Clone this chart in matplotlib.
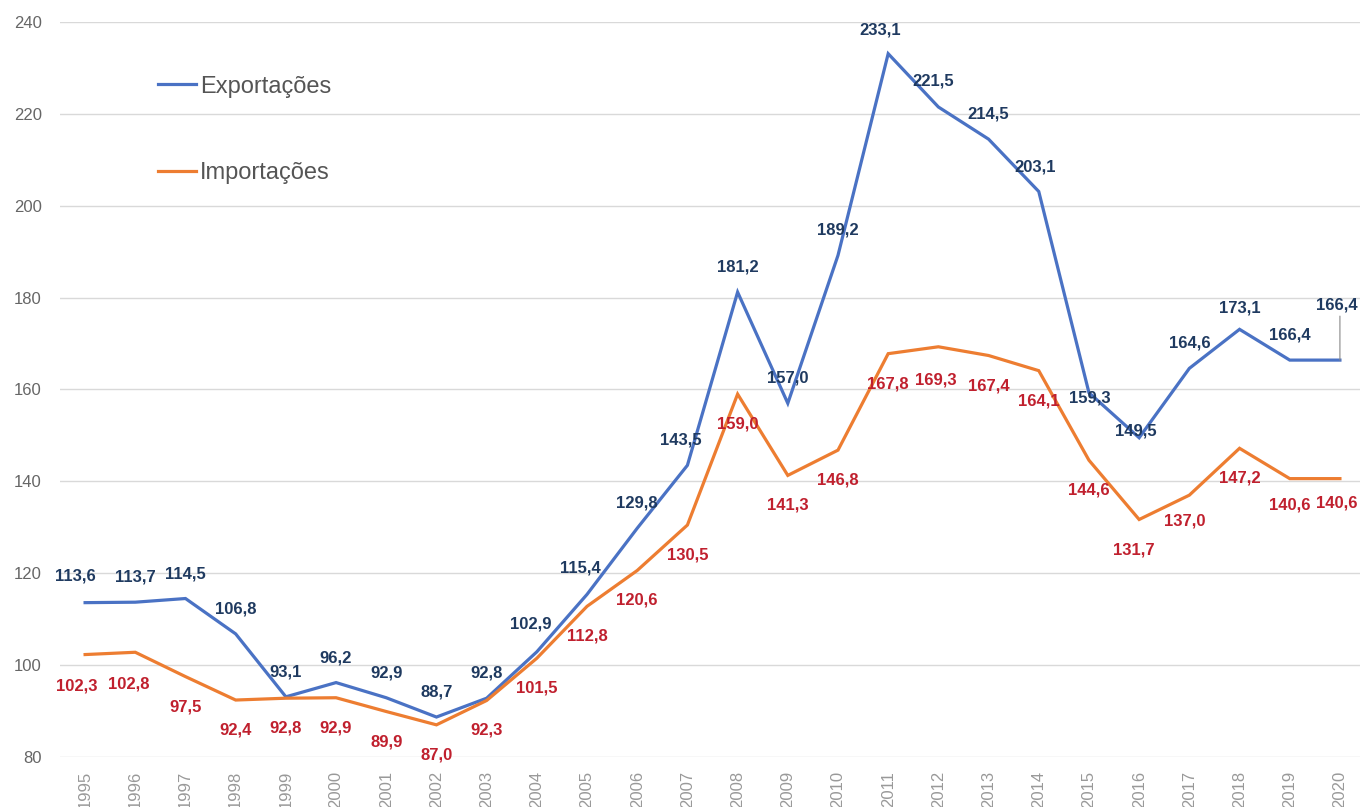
import matplotlib
matplotlib.use("Agg")
import matplotlib.pyplot as plt

plt.rcParams['font.family'] = ['Liberation Sans', 'DejaVu Sans']

# ----------------------------------------------------------------------------
# Data
# ----------------------------------------------------------------------------
years = list(range(1995, 2021))
exportacoes = [113.6, 113.7, 114.5, 106.8, 93.1, 96.2, 92.9, 88.7, 92.8, 102.9,
               115.4, 129.8, 143.5, 181.2, 157.0, 189.2, 233.1, 221.5, 214.5,
               203.1, 159.3, 149.5, 164.6, 173.1, 166.4, 166.4]
importacoes = [102.3, 102.8, 97.5, 92.4, 92.8, 92.9, 89.9, 87.0, 92.3, 101.5,
               112.8, 120.6, 130.5, 159.0, 141.3, 146.8, 167.8, 169.3, 167.4,
               164.1, 144.6, 131.7, 137.0, 147.2, 140.6, 140.6]

def fmt(v):
    return f'{v:.1f}'.replace('.', ',')

# label offsets in pixels (defaults + a few hand tweaks)
exp_off = {1995: (-10, 27), 2004: (-6, 28), 2005: (-7, 26), 2007: (-7, 25),
           2011: (-8, 24), 2012: (-5, 26), 2014: (-4, 25),
           2015: (1, -5), 2016: (-3, 7), 2018: (0, 21), 2020: (-3, 55)}
imp_off = {1995: (-8, -31), 1996: (-7, -32), 2012: (-3, -33),
           2016: (-5, -30), 2017: (-5, -26), 2019: (0, -26), 2020: (-3, -24)}

blue = '#4a72c4'
orange = '#ed7d31'
blue_txt = '#1f3a60'
red_txt = '#c0202e'

fig = plt.figure(figsize=(13.6, 8.07), dpi=100)
ax = fig.add_axes([60 / 1360, 1 - 757 / 807, 1300 / 1360, (757 - 22) / 807])

ax.plot(years, exportacoes, color=blue, lw=2.3, label='Exportações',
        solid_joinstyle='miter', zorder=3)
ax.plot(years, importacoes, color=orange, lw=2.3, label='Importações',
        solid_joinstyle='miter', zorder=3)

for yr, v in zip(years, exportacoes):
    dx, dy = exp_off.get(yr, (0, 25))
    ax.annotate(fmt(v), (yr, v), xytext=(dx, dy), textcoords='offset pixels',
                ha='center', va='center', fontsize=12, color=blue_txt,
                fontweight='semibold', annotation_clip=False, zorder=4)

# leader line for the last export label
ax.annotate('', (years[-1], exportacoes[-1]), xytext=(0, 44),
            textcoords='offset pixels', annotation_clip=False,
            arrowprops=dict(arrowstyle='-', color='#888888', lw=0.8,
                            shrinkA=0, shrinkB=0))

for yr, v in zip(years, importacoes):
    dx, dy = imp_off.get(yr, (0, -30))
    ax.annotate(fmt(v), (yr, v), xytext=(dx, dy), textcoords='offset pixels',
                ha='center', va='center', fontsize=12, color=red_txt,
                fontweight='bold', annotation_clip=False, zorder=4)

ax.set_xlim(1994.5, 2020.4)
ax.set_ylim(80, 240)
ax.set_yticks(range(80, 241, 20))
ax.set_xticks(years)
ax.set_xticklabels([str(y) for y in years], rotation=90, fontsize=12,
                   color='#999999')
ax.tick_params(axis='y', length=0, pad=13, labelsize=12, labelcolor='#666666')
ax.tick_params(axis='x', length=0, pad=10)
ax.grid(axis='y', color='#d9d9d9', lw=1)
ax.set_axisbelow(True)
for s in ax.spines.values():
    s.set_visible(False)

ax.legend(loc='upper left', bbox_to_anchor=(0.0685, 0.94), frameon=False,
          fontsize=17, handlelength=1.6, handletextpad=0.15, labelspacing=2.75,
          labelcolor='#555555', borderaxespad=0)

fig.savefig('out.png', dpi=100)
